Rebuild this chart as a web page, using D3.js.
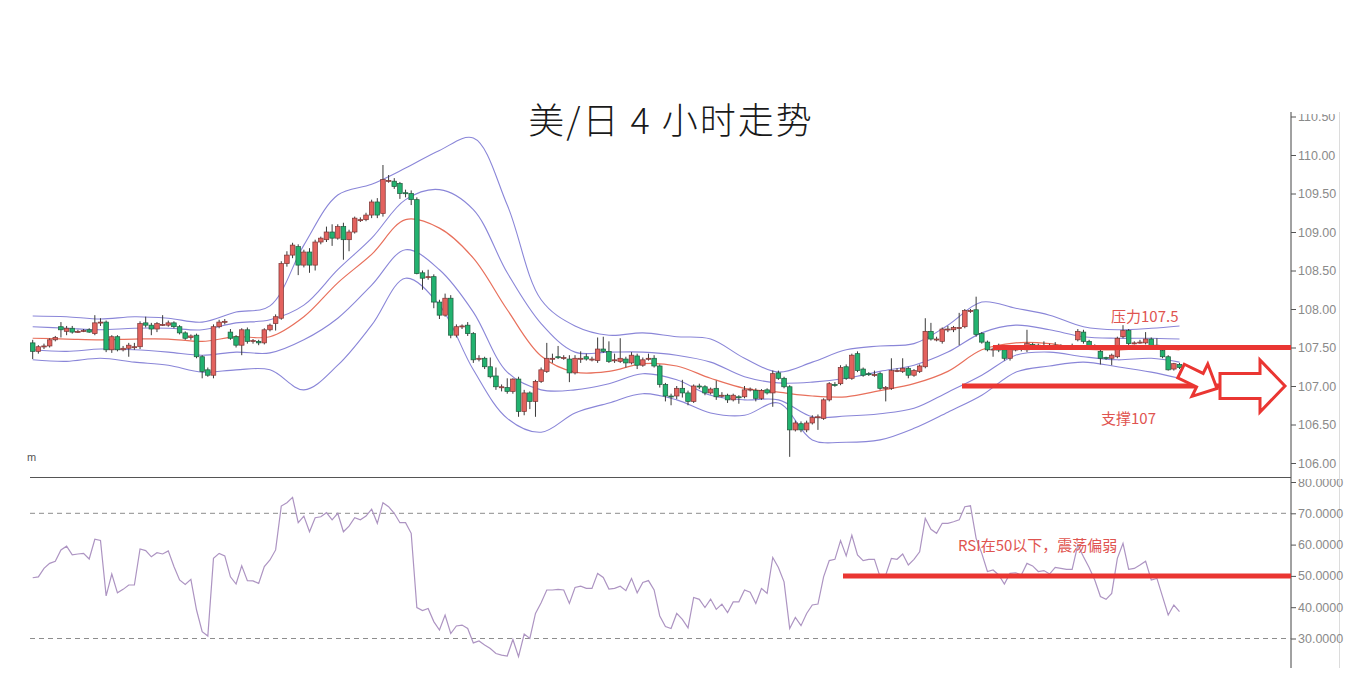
<!DOCTYPE html>
<html><head><meta charset="utf-8">
<script src="https://cdn.jsdelivr.net/npm/d3@7"></script>
<style>body{margin:0;background:#fff;overflow:hidden}</style>
</head><body>
<svg id="c" width="1360" height="676"></svg>
<script>
const title = "美/日 4 小时走势";
const priceTicks = [106, 106.5, 107, 107.5, 108, 108.5, 109, 109.5, 110, 110.5];
const rsiTicks = [30, 40, 50, 60, 70, 80];
const rsiGuides = [30, 70];
const resistance = 107.5, support = 107.0, rsiLevel = 50;
const labelResistance = "压力107.5", labelSupport = "支撑107", labelRsi = "RSI在50以下，震荡偏弱";

// [open, high, low, close]
const candles = [
[107.56,107.60,107.35,107.45],[107.45,107.53,107.42,107.51],[107.51,107.55,107.48,107.52],[107.52,107.62,107.50,107.60],[107.60,107.65,107.58,107.63],
[107.77,107.83,107.63,107.73],[107.71,107.78,107.66,107.75],[107.75,107.78,107.68,107.70],[107.70,107.73,107.69,107.71],[107.71,107.74,107.70,107.72],
[107.73,107.75,107.69,107.70],[107.68,107.92,107.66,107.82],[107.82,107.88,107.78,107.83],[107.83,107.85,107.44,107.47],[107.47,107.66,107.43,107.64],
[107.64,107.66,107.45,107.47],[107.47,107.52,107.45,107.49],[107.49,107.56,107.38,107.53],[107.51,107.56,107.47,107.51],[107.51,107.84,107.48,107.81],
[107.82,107.90,107.76,107.79],[107.79,107.82,107.66,107.74],[107.74,107.83,107.70,107.81],[107.80,107.92,107.78,107.80],[107.79,107.85,107.77,107.82],
[107.82,107.84,107.75,107.77],[107.77,107.79,107.67,107.69],[107.69,107.71,107.60,107.62],[107.63,107.67,107.60,107.65],[107.66,107.68,107.36,107.38],
[107.38,107.40,107.10,107.19],[107.21,107.24,107.12,107.14],[107.14,107.80,107.10,107.77],[107.77,107.86,107.75,107.83],[107.83,107.87,107.80,107.84],
[107.70,107.74,107.60,107.62],[107.64,107.66,107.50,107.53],[107.53,107.75,107.40,107.73],[107.73,107.76,107.55,107.58],[107.58,107.61,107.55,107.59],
[107.58,107.60,107.53,107.56],[107.56,107.75,107.54,107.73],[107.73,107.81,107.71,107.79],[107.81,107.93,107.72,107.90],[107.88,108.62,107.86,108.59],
[108.59,108.75,108.55,108.70],[108.70,108.86,108.66,108.83],[108.81,108.84,108.44,108.57],[108.57,108.77,108.54,108.74],[108.74,108.79,108.47,108.57],
[108.57,108.90,108.50,108.87],[108.87,108.94,108.84,108.92],[108.90,109.07,108.87,109.00],[109.00,109.10,108.82,108.92],[108.92,109.10,108.90,109.07],
[109.07,109.12,108.64,108.90],[108.90,109.03,108.75,109.00],[109.00,109.20,108.98,109.18],[109.15,109.19,109.13,109.16],[109.16,109.25,109.14,109.22],
[109.22,109.42,109.18,109.39],[109.39,109.44,109.18,109.22],[109.24,109.87,109.20,109.68],[109.66,109.74,109.64,109.67],[109.66,109.70,109.56,109.59],
[109.63,109.65,109.43,109.50],[109.51,109.55,109.45,109.50],[109.50,109.54,109.35,109.42],[109.42,109.45,108.45,108.46],[108.47,108.50,108.25,108.40],
[108.42,108.51,108.38,108.42],[108.42,108.45,108.01,108.09],[108.09,108.12,107.87,107.92],[107.92,108.20,107.90,108.14],[108.14,108.18,107.62,107.66],
[107.66,107.80,107.63,107.77],[107.78,107.80,107.74,107.78],[107.79,107.83,107.65,107.68],[107.68,107.70,107.30,107.34],[107.36,107.40,107.32,107.36],
[107.36,107.38,107.22,107.25],[107.25,107.37,107.10,107.12],[107.13,107.24,106.95,106.99],[106.98,107.02,106.93,106.99],[106.98,107.10,106.90,106.93],
[106.93,107.10,106.90,107.09],[107.09,107.12,106.60,106.67],[106.67,106.95,106.62,106.91],[106.91,106.93,106.70,106.80],[106.80,107.08,106.60,107.06],
[107.06,107.24,107.04,107.21],[107.19,107.56,107.17,107.36],[107.35,107.42,107.30,107.36],[107.38,107.52,107.35,107.37],[107.36,107.40,107.34,107.37],
[107.35,107.40,107.05,107.17],[107.17,107.40,107.15,107.36],[107.35,107.45,107.30,107.36],[107.38,107.42,107.33,107.35],[107.34,107.38,107.32,107.35],
[107.33,107.63,107.30,107.48],[107.48,107.64,107.43,107.45],[107.45,107.58,107.30,107.32],[107.33,107.42,107.30,107.34],[107.32,107.62,107.30,107.36],
[107.35,107.38,107.24,107.30],[107.30,107.44,107.28,107.40],[107.39,107.42,107.22,107.27],[107.27,107.37,107.25,107.34],[107.35,107.42,107.33,107.36],
[107.36,107.40,107.24,107.26],[107.26,107.28,106.98,107.02],[107.02,107.04,106.80,106.87],[106.87,106.90,106.75,106.86],[106.87,107.00,106.83,106.97],
[106.97,107.08,106.85,106.91],[106.91,106.94,106.75,106.80],[106.80,107.02,106.78,107.00],[107.00,107.03,106.96,106.99],[106.99,107.01,106.88,106.91],
[106.91,106.98,106.89,106.96],[106.97,107.07,106.82,106.86],[106.87,106.92,106.85,106.88],[106.88,106.90,106.78,106.82],[106.82,106.90,106.80,106.88],
[106.86,106.88,106.77,106.85],[106.86,107.00,106.84,106.95],[106.95,106.98,106.93,106.96],[106.94,106.97,106.80,106.84],[106.84,106.96,106.82,106.94],
[106.95,106.97,106.89,106.91],[106.91,107.20,106.73,107.16],[107.17,107.20,107.08,107.10],[107.10,107.12,106.97,106.99],[106.99,107.01,106.08,106.43],
[106.43,106.55,106.41,106.52],[106.51,106.54,106.40,106.43],[106.43,106.55,106.40,106.52],[106.52,106.62,106.50,106.59],[106.59,106.63,106.43,106.60],
[106.58,106.84,106.56,106.82],[106.82,107.05,106.80,107.03],[107.02,107.05,106.99,107.01],[107.03,107.27,107.01,107.24],[107.25,107.28,107.08,107.10],
[107.10,107.42,107.08,107.40],[107.42,107.45,107.18,107.20],[107.22,107.24,107.12,107.14],[107.16,107.18,107.13,107.15],[107.14,107.20,107.12,107.15],
[107.16,107.18,106.95,106.97],[106.97,107.00,106.80,106.98],[106.97,107.36,106.95,107.20],[107.19,107.23,107.18,107.20],[107.19,107.36,107.17,107.23],
[107.23,107.25,107.10,107.14],[107.14,107.22,107.12,107.20],[107.19,107.28,107.17,107.26],[107.25,107.88,107.23,107.71],[107.71,107.82,107.59,107.61],
[107.60,107.64,107.58,107.61],[107.58,107.76,107.55,107.74],[107.73,107.78,107.70,107.74],[107.73,107.78,107.70,107.76],[107.75,107.95,107.53,107.76],
[107.77,108.00,107.75,107.98],[107.97,108.00,107.95,107.98],[107.99,108.16,107.64,107.67],[107.68,107.70,107.55,107.57],[107.57,107.59,107.45,107.47],
[107.47,107.50,107.38,107.48],[107.48,107.55,107.44,107.47],[107.47,107.49,107.33,107.36],[107.36,107.50,107.33,107.48],[107.47,107.51,107.45,107.48],
[107.49,107.52,107.45,107.48],[107.47,107.73,107.44,107.55],[107.54,107.56,107.50,107.53],[107.53,107.55,107.49,107.52],[107.52,107.58,107.49,107.52],
[107.51,107.55,107.48,107.52],[107.53,107.57,107.50,107.52],[107.52,107.54,107.48,107.51],[107.50,107.53,107.49,107.51],[107.52,107.55,107.48,107.51],
[107.60,107.74,107.58,107.71],[107.70,107.73,107.55,107.58],[107.58,107.60,107.49,107.51],[107.50,107.54,107.48,107.51],[107.45,107.47,107.28,107.36],
[107.37,107.38,107.34,107.36],[107.36,107.42,107.27,107.40],[107.38,107.64,107.36,107.62],[107.64,107.79,107.62,107.72],[107.72,107.74,107.53,107.55],
[107.55,107.58,107.54,107.56],[107.56,107.60,107.55,107.57],[107.56,107.70,107.54,107.61],[107.61,107.63,107.48,107.52],[107.53,107.62,107.50,107.52],
[107.46,107.48,107.36,107.38],[107.38,107.40,107.20,107.21],[107.22,107.30,107.20,107.29],[107.28,107.30,107.22,107.24]
];

// Bollinger-style envelopes, read at these candle positions
const bandIndex = [0,6,12,18,24,30,36,42,48,54,60,66,72,78,84,90,96,102,108,114,120,126,132,138,144,150,156,162,168,174,180,186,192,198,203];
const upper2 = [107.91,107.90,107.87,107.90,107.88,107.83,107.96,108.04,108.83,109.48,109.62,109.83,110.06,110.22,109.35,108.12,107.78,107.66,107.69,107.64,107.61,107.36,107.18,107.31,107.47,107.52,107.55,107.79,108.09,108.01,107.92,107.77,107.73,107.75,107.78];
const upper1 = [107.77,107.75,107.73,107.75,107.75,107.73,107.82,107.86,108.05,108.51,108.92,109.42,109.55,109.29,108.47,107.81,107.44,107.44,107.44,107.40,107.31,107.12,107.04,107.05,107.10,107.19,107.27,107.44,107.69,107.79,107.73,107.64,107.62,107.62,107.61];
const middle = [107.62,107.61,107.60,107.61,107.61,107.58,107.64,107.64,107.90,108.34,108.71,109.16,109.05,108.66,107.99,107.39,107.18,107.19,107.29,107.26,107.10,106.97,106.92,106.87,106.86,106.94,107.03,107.19,107.47,107.56,107.55,107.48,107.47,107.49,107.47];
const lower1 = [107.47,107.45,107.48,107.47,107.44,107.40,107.44,107.43,107.60,107.88,108.31,108.77,108.51,107.96,107.18,106.95,106.95,107.03,107.16,107.08,106.88,106.82,106.82,106.60,106.61,106.64,106.71,106.92,107.14,107.40,107.44,107.38,107.34,107.36,107.31];
const lower2 = [107.34,107.32,107.36,107.31,107.27,107.18,107.21,107.21,106.95,107.27,107.79,108.40,108.05,107.21,106.58,106.40,106.65,106.78,106.90,106.82,106.65,106.62,106.78,106.30,106.27,106.30,106.45,106.66,106.88,107.18,107.26,107.31,107.25,107.18,107.10];

const rsi = [49.4,49.7,52.4,54.0,54.7,58.3,59.5,56.7,57.0,57.2,
55.4,61.7,61.3,43.6,50.6,44.6,45.7,47.1,47.1,58.6,
58.1,56.1,57.4,57.0,58.0,53.0,48.7,47.3,48.9,39.1,
32.2,30.8,55.6,57.2,56.4,49.7,47.4,53.2,48.5,48.4,
47.6,53.0,55.1,58.3,72.3,73.4,75.1,67.0,69.1,64.1,
68.6,68.9,70.2,67.9,70.0,64.1,65.9,68.6,67.9,69.1,
71.3,66.8,73.4,72.1,70.0,67.0,67.0,63.6,39.9,38.9,
39.6,35.4,32.7,37.5,31.6,34.0,34.3,33.2,28.6,29.2,
27.9,26.8,25.2,24.7,24.4,29.7,24.2,31.4,30.0,38.0,
41.4,45.5,45.5,45.7,45.5,41.2,46.3,46.7,46.0,46.0,
50.8,49.5,45.8,46.0,46.7,45.3,49.2,44.6,47.9,48.5,
45.5,37.2,33.8,33.2,38.0,36.1,33.4,43.1,42.5,39.9,
42.6,39.3,41.0,38.3,41.7,41.7,45.5,44.8,41.2,46.0,
44.4,55.9,52.7,48.1,33.2,36.7,34.1,38.0,40.7,41.0,
49.7,54.9,55.3,61.3,56.4,63.0,56.7,54.9,55.3,55.3,
49.7,50.3,55.6,55.3,57.0,53.5,55.3,57.7,68.4,64.9,
63.6,66.8,66.8,67.3,67.9,72.1,72.4,62.0,57.2,51.4,
51.9,50.3,47.4,50.8,51.0,50.3,54.0,53.2,51.4,51.7,
50.6,52.7,52.4,52.1,52.1,59.9,56.1,52.7,48.7,43.4,
42.5,44.4,55.6,60.4,52.1,52.4,53.5,54.7,48.7,49.2,
43.4,37.5,40.7,38.6];

const svg = d3.select("#c");
const W = 1360, H = 676;
const plotLeft = 28, axisX = 1291, sepY = 477;

const x = d3.scaleLinear().domain([0, candles.length - 1]).range([32.7, 1179.5]);
const yP = d3.scaleLinear().domain([106, 110]).range([463, 155]);
const yR = d3.scaleLinear().domain([30, 80]).range([638.5, 482]);

const defs = svg.append("defs");
defs.append("clipPath").attr("id","clipP").append("rect").attr("x",plotLeft).attr("y",112).attr("width",axisX-plotLeft).attr("height",sepY-112);
defs.append("clipPath").attr("id","clipR").append("rect").attr("x",plotLeft).attr("y",sepY+1).attr("width",axisX-plotLeft).attr("height",H-sepY-1);
defs.append("clipPath").attr("id","clipAxP").append("rect").attr("x",axisX-2).attr("y",114).attr("width",W-axisX+2).attr("height",sepY-114);
defs.append("clipPath").attr("id","clipAxR").append("rect").attr("x",axisX-2).attr("y",479).attr("width",W-axisX+2).attr("height",H-479);

svg.append("rect").attr("width",W).attr("height",H).attr("fill","#fff");

// title
svg.append("text").attr("x",671).attr("y",134).attr("text-anchor","middle")
  .style("font-family","'Noto Sans CJK SC','Noto Sans CJK JP',sans-serif").style("font-size","36px")
  .style("font-weight","300").style("letter-spacing","2px").style("fill","#1a1a1a")
  .text(title);

// frame lines
svg.append("line").attr("x1",axisX).attr("x2",axisX).attr("y1",112).attr("y2",668).attr("stroke","#444").attr("stroke-width",1);
svg.append("line").attr("x1",1339.5).attr("x2",1339.5).attr("y1",112).attr("y2",668).attr("stroke","#dcdcdc").attr("stroke-width",1);
svg.append("line").attr("x1",30).attr("x2",axisX).attr("y1",sepY+0.5).attr("y2",sepY+0.5).attr("stroke","#555").attr("stroke-width",1);

// price panel
const gP = svg.append("g").attr("clip-path","url(#clipP)");
const bandLine = arr => d3.line().x((d,i)=>x(bandIndex[i])).y(d=>yP(d)).curve(d3.curveCatmullRom.alpha(0.5))(arr);
[upper2, upper1, lower1, lower2].forEach(arr => {
  gP.append("path").attr("d", bandLine(arr)).attr("fill","none").attr("stroke","#8a86d8").attr("stroke-width",1.1);
});
gP.append("path").attr("d", bandLine(middle)).attr("fill","none").attr("stroke","#e8705c").attr("stroke-width",1.2);

const bw = 4.6;
const cg = gP.selectAll("g.c").data(candles).join("g").attr("class","c");
cg.append("line")
  .attr("x1",(d,i)=>x(i)).attr("x2",(d,i)=>x(i))
  .attr("y1",d=>yP(d[1])).attr("y2",d=>yP(d[2]))
  .attr("stroke","#3a3a3a").attr("stroke-width",1);
cg.append("rect")
  .attr("x",(d,i)=>x(i)-bw/2).attr("width",bw)
  .attr("y",d=>yP(Math.max(d[0],d[3])))
  .attr("height",d=>Math.max(1, Math.abs(yP(d[0])-yP(d[3]))))
  .attr("fill",d=>d[3]>=d[0] ? "#e3625e" : "#22b26f")
  .attr("stroke",d=>d[3]>=d[0] ? "#7a3534" : "#1f5a3d")
  .attr("stroke-width",0.7);

svg.append("text").attr("x",27).attr("y",461).style("font-family","'Liberation Sans',Arial,sans-serif").style("font-size","11px").style("fill","#555").text("m");

// rsi panel
const gR = svg.append("g").attr("clip-path","url(#clipR)");
rsiGuides.forEach(v => {
  gR.append("line").attr("x1",30).attr("x2",axisX).attr("y1",yR(v)).attr("y2",yR(v))
    .attr("stroke","#8d8d8d").attr("stroke-width",1).attr("stroke-dasharray","5,4");
});
gR.append("path").attr("d", d3.line().x((d,i)=>x(i)).y(d=>yR(d))(rsi))
  .attr("fill","none").attr("stroke","#ad94c2").attr("stroke-width",1.2);

// axes
const fontAx = "'Liberation Sans',Arial,sans-serif";
const axP = svg.append("g").attr("clip-path","url(#clipAxP)").append("g").attr("transform",`translate(${axisX},0)`)
  .call(d3.axisRight(yP).tickValues(priceTicks).tickFormat(d3.format(".2f")).tickSize(5).tickPadding(2));
const axR = svg.append("g").attr("clip-path","url(#clipAxR)").append("g").attr("transform",`translate(${axisX},0)`)
  .call(d3.axisRight(yR).tickValues(rsiTicks).tickFormat(d=>d.toFixed(4)).tickSize(5).tickPadding(2));
[axP, axR].forEach(a => {
  a.select(".domain").remove();
  a.selectAll(".tick line").attr("stroke","#555");
  a.selectAll(".tick text").style("font-family",fontAx).style("font-size","12.5px").attr("fill","#8a8a8a");
});

// annotations
const red = "#ea3632";
svg.append("line").attr("x1",993).attr("x2",axisX).attr("y1",yP(resistance)).attr("y2",yP(resistance))
  .attr("stroke",red).attr("stroke-width",5);
svg.append("line").attr("x1",962).attr("x2",1284).attr("y1",yP(support)).attr("y2",yP(support))
  .attr("stroke",red).attr("stroke-width",5);
svg.append("line").attr("x1",843).attr("x2",axisX).attr("y1",yR(rsiLevel)).attr("y2",yR(rsiLevel))
  .attr("stroke",red).attr("stroke-width",5);

// block arrows
const arrowPts = (L, bh, hl, hh) => [[0,-bh],[L-hl,-bh],[L-hl,-hh],[L,0],[L-hl,hh],[L-hl,bh],[0,bh]].map(p=>p.join(",")).join(" ");
svg.append("polygon").attr("points", arrowPts(40, 7.5, 19, 18))
  .attr("transform",`translate(1181,371) rotate(26)`)
  .attr("fill","#fff").attr("stroke",red).attr("stroke-width",3).attr("stroke-linejoin","miter");
svg.append("polygon").attr("points", arrowPts(65, 12.5, 25, 26))
  .attr("transform",`translate(1220,${yP(support)})`)
  .attr("fill","#fff").attr("stroke",red).attr("stroke-width",3).attr("stroke-linejoin","miter");

const fontCN = "'Noto Sans CJK SC','Noto Sans CJK JP',sans-serif";
svg.append("text").attr("x",1111).attr("y",322).style("font-family",fontCN).style("font-size","15px").attr("fill","#df5450").text(labelResistance);
svg.append("text").attr("x",1101).attr("y",424).style("font-family",fontCN).style("font-size","15px").attr("fill","#df5450").text(labelSupport);
svg.append("text").attr("x",958).attr("y",551).style("font-family",fontCN).style("font-size","15px").attr("fill","#df5450").text(labelRsi);
</script>
</body></html>
